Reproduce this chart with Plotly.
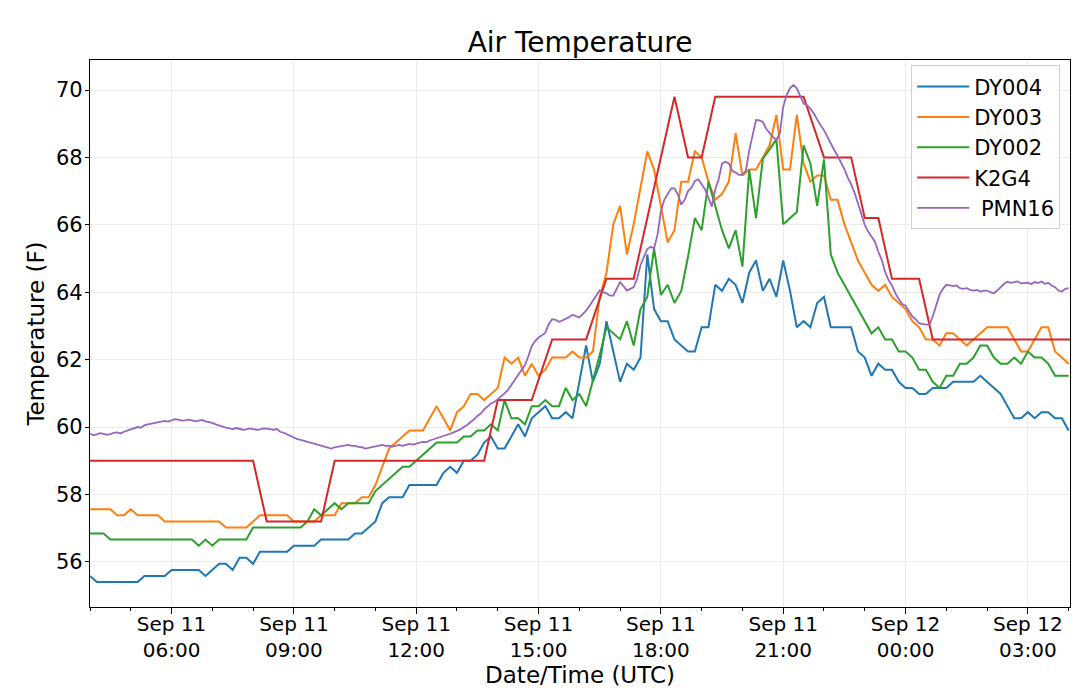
import pandas as pd
import plotly.graph_objects as go

# time axes: DY stations report every 10 min, PMN16 every 5 min (Sep 11 04:00 -> Sep 12 04:00 UTC)
dy_times = pd.date_range("2019-09-11 04:00", "2019-09-12 04:00", freq="10min")
pmn_times = pd.date_range("2019-09-11 04:00", "2019-09-12 04:00", freq="5min")

# air temperature (F), one row per hour
dy004 = [
    55.58, 55.40, 55.40, 55.40, 55.40, 55.40,
    55.40, 55.40, 55.58, 55.58, 55.58, 55.58,
    55.76, 55.76, 55.76, 55.76, 55.76, 55.58,
    55.76, 55.94, 55.94, 55.76, 56.12, 56.12,
    55.94, 56.30, 56.30, 56.30, 56.30, 56.30,
    56.48, 56.48, 56.48, 56.48, 56.66, 56.66,
    56.66, 56.66, 56.66, 56.84, 56.84, 57.02,
    57.20, 57.74, 57.92, 57.92, 57.92, 58.28,
    58.28, 58.28, 58.28, 58.28, 58.64, 58.82,
    58.64, 59.00, 59.00, 59.18, 59.54, 59.72,
    59.36, 59.36, 59.72, 60.08, 59.72, 60.26,
    60.44, 60.62, 60.26, 60.26, 60.44, 60.26,
    61.34, 62.42, 61.34, 61.88, 63.14, 62.24,
    61.34, 61.88, 61.70, 62.06, 65.12, 63.50,
    63.14, 63.14, 62.60, 62.42, 62.24, 62.24,
    62.96, 62.96, 64.22, 64.04, 64.40, 64.22,
    63.68, 64.58, 64.94, 64.04, 64.40, 63.86,
    64.94, 64.04, 62.96, 63.14, 62.96, 63.68,
    63.86, 62.96, 62.96, 62.96, 62.96, 62.24,
    62.06, 61.52, 61.88, 61.70, 61.70, 61.34,
    61.16, 61.16, 60.98, 60.98, 61.16, 61.16,
    61.16, 61.34, 61.34, 61.34, 61.34, 61.52,
    61.34, 61.16, 60.98, 60.62, 60.26, 60.26,
    60.44, 60.26, 60.44, 60.44, 60.26, 60.26,
    59.90,
]

dy003 = [
    57.56, 57.56, 57.56, 57.56, 57.38, 57.38,
    57.56, 57.38, 57.38, 57.38, 57.38, 57.20,
    57.20, 57.20, 57.20, 57.20, 57.20, 57.20,
    57.20, 57.20, 57.02, 57.02, 57.02, 57.02,
    57.20, 57.38, 57.38, 57.38, 57.38, 57.38,
    57.20, 57.20, 57.20, 57.20, 57.38, 57.38,
    57.38, 57.74, 57.74, 57.74, 57.92, 57.92,
    58.28, 58.82, 59.36, 59.54, 59.72, 59.90,
    59.90, 59.90, 60.26, 60.62, 60.26, 59.90,
    60.44, 60.62, 60.98, 60.98, 60.80, 60.98,
    61.16, 62.06, 61.88, 62.06, 61.52, 61.88,
    61.52, 61.70, 62.06, 62.06, 62.06, 62.24,
    62.06, 62.06, 62.24, 63.86, 64.58, 66.02,
    66.56, 65.12, 66.02, 67.10, 68.18, 67.64,
    66.56, 65.48, 65.84, 67.28, 67.28, 68.18,
    68.00, 67.28, 66.74, 66.92, 67.28, 68.72,
    67.46, 67.64, 67.64, 68.00, 68.36, 69.26,
    67.64, 67.64, 69.26, 67.82, 67.28, 67.46,
    67.46, 66.74, 66.74, 66.02, 65.48, 64.94,
    64.58, 64.22, 64.04, 64.22, 63.86, 63.68,
    63.50, 63.14, 62.96, 62.60, 62.60, 62.42,
    62.78, 62.78, 62.60, 62.42, 62.60, 62.78,
    62.96, 62.96, 62.96, 62.96, 62.60, 62.24,
    62.24, 62.60, 62.96, 62.96, 62.24, 62.06,
    61.88,
]

dy002 = [
    56.84, 56.84, 56.84, 56.66, 56.66, 56.66,
    56.66, 56.66, 56.66, 56.66, 56.66, 56.66,
    56.66, 56.66, 56.66, 56.66, 56.48, 56.66,
    56.48, 56.66, 56.66, 56.66, 56.66, 56.66,
    57.02, 57.02, 57.02, 57.02, 57.02, 57.02,
    57.02, 57.02, 57.20, 57.56, 57.38, 57.56,
    57.74, 57.56, 57.74, 57.74, 57.74, 57.74,
    58.10, 58.28, 58.46, 58.64, 58.82, 58.82,
    59.00, 59.18, 59.36, 59.54, 59.54, 59.54,
    59.54, 59.72, 59.72, 59.90, 59.90, 60.08,
    59.90, 60.80, 60.26, 60.26, 60.08, 60.62,
    60.62, 60.80, 60.62, 60.62, 61.16, 60.80,
    60.98, 60.62, 61.34, 62.14, 62.96, 62.78,
    62.60, 63.14, 62.42, 63.50, 63.86, 65.30,
    63.92, 64.22, 63.68, 64.04, 65.06, 66.20,
    65.84, 67.28, 66.56, 65.84, 65.30, 65.84,
    64.76, 67.64, 66.20, 67.96, 68.24, 68.54,
    66.02, 66.20, 66.38, 68.36, 67.82, 66.56,
    67.94, 65.12, 64.58, 64.22, 63.86, 63.50,
    63.14, 62.78, 62.96, 62.60, 62.60, 62.24,
    62.24, 62.06, 61.70, 61.70, 61.34, 61.16,
    61.52, 61.52, 61.88, 61.88, 62.06, 62.42,
    62.42, 62.06, 61.88, 61.88, 62.06, 61.88,
    62.24, 62.06, 62.06, 61.88, 61.52, 61.52,
    61.52,
]

# K2G4 airport obs (only the report times where the value changes)
k2g4_times = [
    "2019-09-11 04:00", "2019-09-11 08:00", "2019-09-11 08:20", "2019-09-11 09:40",
    "2019-09-11 10:00", "2019-09-11 13:40", "2019-09-11 14:00", "2019-09-11 14:50",
    "2019-09-11 15:20", "2019-09-11 16:10", "2019-09-11 16:40", "2019-09-11 17:20",
    "2019-09-11 18:20", "2019-09-11 18:40", "2019-09-11 19:00", "2019-09-11 19:20",
    "2019-09-11 21:30", "2019-09-11 22:00", "2019-09-11 22:40", "2019-09-11 23:00",
    "2019-09-11 23:20", "2019-09-11 23:40", "2019-09-12 00:20", "2019-09-12 00:40",
    "2019-09-12 04:02",
]
k2g4 = [
    59.0, 59.0, 57.2, 57.2,
    59.0, 59.0, 60.8, 60.8,
    62.6, 62.6, 64.4, 64.4,
    69.8, 68.0, 68.0, 69.8,
    69.8, 68.0, 68.0, 66.2,
    66.2, 64.4, 64.4, 62.6,
    62.6,
]

pmn16 = [
    59.80, 59.76, 59.78, 59.82, 59.80, 59.77, 59.79, 59.83, 59.84, 59.81, 59.86, 59.89,
    59.92, 59.96, 60.00, 59.98, 60.05, 60.08, 60.10, 60.13, 60.14, 60.17, 60.18, 60.16,
    60.20, 60.23, 60.22, 60.19, 60.20, 60.22, 60.20, 60.17, 60.19, 60.21, 60.17, 60.15,
    60.12, 60.08, 60.04, 60.00, 59.98, 59.96, 59.94, 59.97, 59.95, 59.92, 59.93, 59.96,
    59.94, 59.92, 59.93, 59.96, 59.95, 59.93, 59.92, 59.94, 59.86, 59.83, 59.78, 59.74,
    59.68, 59.64, 59.62, 59.59, 59.56, 59.54, 59.52, 59.49, 59.45, 59.41, 59.38, 59.36,
    59.40, 59.42, 59.44, 59.47, 59.47, 59.44, 59.44, 59.41, 59.40, 59.36, 59.38, 59.42,
    59.44, 59.46, 59.47, 59.44, 59.45, 59.42, 59.44, 59.47, 59.44, 59.46, 59.50, 59.48,
    59.52, 59.54, 59.56, 59.55, 59.60, 59.63, 59.66, 59.70, 59.73, 59.77, 59.80, 59.84,
    59.88, 59.93, 60.00, 60.06, 60.15, 60.22, 60.33, 60.40, 60.52, 60.60, 60.70, 60.74,
    60.82, 60.90, 61.00, 61.10, 61.25, 61.40, 61.58, 61.70, 61.84, 62.10, 62.40, 62.55,
    62.66, 62.72, 62.80, 63.05, 63.20, 63.18, 63.12, 63.16, 63.20, 63.26, 63.33, 63.28,
    63.25, 63.35, 63.45, 63.60, 63.75, 63.92, 64.05, 64.00, 63.97, 63.90, 63.90, 64.10,
    64.30, 64.18, 64.05, 64.10, 64.15, 64.40, 64.80, 65.05, 65.28, 65.35, 65.30, 65.70,
    66.40, 66.74, 66.90, 67.08, 67.08, 66.90, 66.60, 66.74, 67.00, 67.10, 67.30, 67.35,
    67.20, 67.05, 66.80, 66.54, 67.05, 67.35, 67.82, 67.87, 67.82, 67.60, 67.55, 67.48,
    67.48, 67.60, 68.20, 68.70, 69.11, 69.10, 69.05, 68.85, 68.71, 68.60, 68.52, 68.70,
    69.50, 69.85, 70.05, 70.15, 70.05, 69.80, 69.60, 69.55, 69.45, 69.30, 69.11, 68.95,
    68.81, 68.60, 68.40, 68.22, 68.05, 67.87, 67.65, 67.40, 67.20, 66.95, 66.64, 66.30,
    66.00, 65.80, 65.65, 65.50, 65.20, 64.96, 64.60, 64.36, 64.20, 63.97, 63.80, 63.65,
    63.60, 63.45, 63.28, 63.20, 63.08, 63.05, 63.05, 63.03, 63.28, 63.60, 63.92, 64.10,
    64.22, 64.20, 64.18, 64.20, 64.12, 64.10, 64.12, 64.07, 64.05, 64.07, 64.02, 64.05,
    64.05, 64.00, 63.97, 64.05, 64.15, 64.25, 64.31, 64.28, 64.30, 64.32, 64.26, 64.28,
    64.28, 64.24, 64.30, 64.27, 64.32, 64.25, 64.28, 64.20, 64.15, 64.05, 64.02, 64.10,
    64.12,
]

# x tick positions and their two-line labels
tick_times = [
    "2019-09-11 06:00", "2019-09-11 09:00", "2019-09-11 12:00", "2019-09-11 15:00",
    "2019-09-11 18:00", "2019-09-11 21:00", "2019-09-12 00:00", "2019-09-12 03:00",
]
tick_labels = [
    "Sep 11<br>06:00", "Sep 11<br>09:00", "Sep 11<br>12:00", "Sep 11<br>15:00",
    "Sep 11<br>18:00", "Sep 11<br>21:00", "Sep 12<br>00:00", "Sep 12<br>03:00",
]

series = [
    ("DY004", dy_times, dy004, "#1f77b4", 2),
    ("DY003", dy_times, dy003, "#ff7f0e", 2),
    ("DY002", dy_times, dy002, "#2ca02c", 2),
    ("K2G4", pd.to_datetime(k2g4_times), k2g4, "#d62728", 2),
    ("\u00a0PMN16", pmn_times, pmn16, "#9467bd", 1.8),
]

fig = go.Figure()
for name, x, y, color, width in series:
    fig.add_trace(go.Scatter(
        x=x, y=y, mode="lines", name=name, legendgroup=name,
        line=dict(color=color, width=width),
    ))

# the page puts the figure 8px in from the top-left corner, so size/margins allow for that
fig.update_layout(
    width=1072, height=685,
    paper_bgcolor="white", plot_bgcolor="white",
    font=dict(family="DejaVu Sans", size=20, color="black"),
    title=dict(text="Air Temperature", x=0.5, xref="paper", xanchor="center",
               y=1 - 34 / 685, yref="container", yanchor="middle",
               font=dict(size=28)),
    margin=dict(l=82, r=10, t=52, b=86),
    legend=dict(x=0.99, xanchor="right", y=0.99, yanchor="top",
                bgcolor="rgba(255,255,255,0.85)", bordercolor="#d0d0d0",
                borderwidth=1, tracegroupgap=0, itemwidth=52,
                font=dict(size=21)),
    showlegend=True,
)

fig.update_xaxes(
    range=["2019-09-11 04:00", "2019-09-12 04:02"],
    tickmode="array", tickvals=tick_times, ticktext=tick_labels,
    ticks="outside", ticklen=6, tickcolor="black", ticklabelstandoff=-7,
    minor=dict(tick0="2019-09-11 04:00", dtick=3600000, ticks="outside",
               ticklen=3, tickcolor="black", showgrid=False),
    showline=True, linecolor="black", linewidth=1.2, mirror=True,
    showgrid=True, gridcolor="#ebebeb", gridwidth=1.3,
    title=dict(text="Date/Time (UTC)", font=dict(size=23), standoff=4),
    automargin=False,
)
fig.update_yaxes(
    range=[54.66, 70.89],
    tickmode="array", tickvals=[56, 58, 60, 62, 64, 66, 68, 70],
    ticks="outside", ticklen=4, tickcolor="black", tickfont=dict(size=21),
    ticklabelstandoff=-2,
    showline=True, linecolor="black", linewidth=1.2, mirror=True,
    showgrid=True, gridcolor="#ebebeb", gridwidth=1.3, zeroline=False,
    title=dict(text="Temperature (F)", font=dict(size=23), standoff=4),
    automargin=False,
)

fig.write_html("out.html")
